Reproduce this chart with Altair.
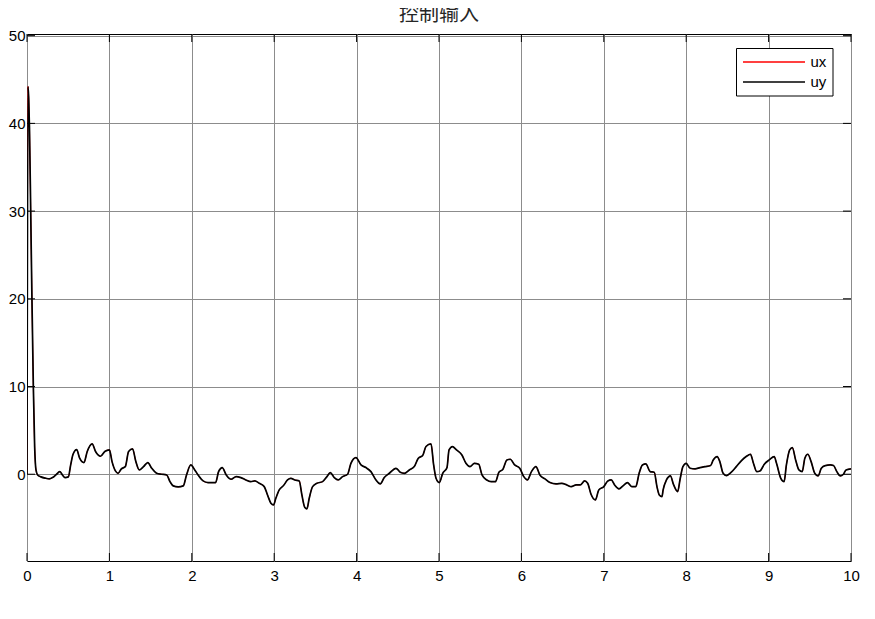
import altair as alt
import pandas as pd

# ---------------- data ----------------
t_values = [
    0.0, 0.012, 0.02, 0.03, 0.045, 0.06, 0.077, 0.093, 0.109, 0.129, 0.169, 0.229, 0.27,
    0.31, 0.35, 0.398, 0.43, 0.462, 0.502, 0.53, 0.559, 0.603, 0.639, 0.691, 0.731,
    0.791, 0.832, 0.892, 0.944, 1.0, 1.032, 1.073, 1.105, 1.145, 1.193, 1.233, 1.281,
    1.321, 1.362, 1.414, 1.466, 1.514, 1.574, 1.635, 1.695, 1.735, 1.775, 1.835, 1.896,
    1.936, 1.988, 2.036, 2.076, 2.137, 2.197, 2.289, 2.325, 2.369, 2.418, 2.478, 2.538,
    2.595, 2.656, 2.717, 2.765, 2.818, 2.879, 2.919, 2.96, 2.992, 3.02, 3.061, 3.113,
    3.162, 3.202, 3.251, 3.304, 3.336, 3.372, 3.397, 3.425, 3.466, 3.518, 3.587, 3.64,
    3.68, 3.729, 3.777, 3.83, 3.891, 3.931, 3.992, 4.053, 4.113, 4.174, 4.235, 4.287,
    4.336, 4.397, 4.478, 4.53, 4.579, 4.64, 4.7, 4.749, 4.802, 4.842, 4.903, 4.935,
    4.964, 5.004, 5.045, 5.097, 5.122, 5.163, 5.212, 5.278, 5.327, 5.376, 5.429, 5.482,
    5.522, 5.58, 5.633, 5.686, 5.727, 5.776, 5.824, 5.865, 5.918, 5.98, 6.029, 6.073,
    6.122, 6.176, 6.224, 6.286, 6.347, 6.42, 6.49, 6.551, 6.604, 6.665, 6.714, 6.767,
    6.804, 6.845, 6.898, 6.939, 7.0, 7.049, 7.09, 7.131, 7.184, 7.237, 7.286, 7.339,
    7.388, 7.429, 7.469, 7.51, 7.563, 7.612, 7.645, 7.673, 7.706, 7.72, 7.76, 7.808,
    7.848, 7.896, 7.928, 7.96, 8.0, 8.048, 8.108, 8.168, 8.228, 8.296, 8.328, 8.376,
    8.408, 8.448, 8.488, 8.548, 8.608, 8.668, 8.728, 8.78, 8.816, 8.856, 8.896, 8.948,
    9.008, 9.068, 9.096, 9.148, 9.188, 9.216, 9.256, 9.288, 9.328, 9.368, 9.408, 9.44,
    9.476, 9.516, 9.56, 9.6, 9.64, 9.688, 9.748, 9.788, 9.828, 9.868, 9.908, 9.94, 10.0,
]
uy_values = [
    0.0, 44.2, 43.0, 39.5, 30.0, 20.0, 10.0, 3.1, 0.5, -0.08, -0.3, -0.46, -0.53,
    -0.38, -0.08, 0.3, -0.08, -0.38, -0.3, 1.06, 2.28, 2.81, 1.83, 1.33, 2.59,
    3.46, 2.59, 2.05, 2.59, 2.78, 1.44, 0.38, 0.11, 0.61, 0.87, 2.59, 2.89,
    1.44, 0.49, 0.87, 1.33, 0.68, 0.11, 0.0, -0.08, -0.84, -1.33, -1.44, -1.33,
    -0.08, 1.06, 0.49, -0.08, -0.76, -0.95, -0.95, 0.3, 0.76, -0.08, -0.57, -0.27,
    -0.38, -0.65, -0.84, -0.76, -1.03, -1.41, -2.36, -3.3, -3.5, -2.74, -1.79, -1.29,
    -0.65, -0.46, -0.65, -0.76, -2.36, -3.8, -3.95, -2.74, -1.41, -1.03, -0.84, -0.27,
    0.19, -0.38, -0.65, -0.27, 0.0, 1.25, 1.9, 1.06, 0.76, 0.3, -0.65, -1.1,
    -0.38, 0.11, 0.68, 0.23, 0.11, 0.49, 0.87, 1.83, 2.13, 3.16, 3.46, 1.06,
    -0.46, -0.95, 0.11, 0.76, 2.78, 3.16, 2.78, 2.2, 1.25, 0.87, 1.25, 1.14,
    -0.08, -0.65, -0.84, -0.84, 0.23, 0.57, 1.63, 1.71, 1.06, 0.68, -0.27, -0.65,
    0.3, 0.87, -0.08, -0.53, -0.95, -1.1, -1.03, -1.22, -1.41, -1.22, -1.22, -0.76,
    -1.03, -2.28, -2.93, -1.79, -1.41, -0.76, -0.65, -1.22, -1.67, -1.29, -0.95, -1.41,
    -1.41, 0.11, 1.06, 1.18, 0.3, 0.23, -1.41, -2.36, -2.55, -1.79, -0.65, -0.19,
    -1.22, -1.98, -0.46, 0.87, 1.25, 0.68, 0.61, 0.76, 0.87, 0.99, 1.63, 2.02,
    1.44, 0.11, -0.15, 0.23, 0.87, 1.52, 2.02, 2.28, 1.25, 0.3, 0.38, 1.14,
    1.63, 2.02, 1.25, -0.46, -0.84, 1.06, 2.78, 3.04, 1.63, 0.49, 0.3, 1.83,
    2.28, 1.44, 0.11, -0.19, 0.68, 0.99, 1.06, 0.99, 0.3, -0.19, 0.0, 0.49, 0.61,
]
# ux is drawn in red underneath uy and is completely hidden by it in the reference
ux_values = list(uy_values)

series_names = ["ux", "uy"]
series_colors = ["#ff0000", "#000000"]
series_widths = [1.0, 1.7]
x_ticks = [0, 1, 2, 3, 4, 5, 6, 7, 8, 9, 10]
y_ticks = [0, 10, 20, 30, 40, 50]
x_domain = [0, 10]
y_domain = [-9.89, 50.19]
title_text = "控制输入"

# ---------------- layout ----------------
W, H = 824, 527
TICK = 8
FONT = "Liberation Sans"

df = pd.concat([
    pd.DataFrame({"t": t_values, "u": ux_values, "series": "ux"}),
    pd.DataFrame({"t": t_values, "u": uy_values, "series": "uy"}),
])
df["idx"] = list(range(len(t_values))) * 2

xs = alt.Scale(domain=x_domain, nice=False, zero=False)
ys = alt.Scale(domain=y_domain, nice=False, zero=False)

common_axis = dict(grid=True, gridColor="#8c8c8c", gridWidth=1, ticks=False,
                   domain=False, title=None, labelFont=FONT, labelFontSize=15,
                   labelColor="#000000", format="d", labelFlush=False,
                   labelOverlap=False)
x_axis = alt.Axis(values=x_ticks, labelPadding=7, **common_axis)
y_axis = alt.Axis(values=y_ticks, labelPadding=2, **common_axis)

line_layers = []
for name, col, sw in zip(series_names, series_colors, series_widths):
    line_layers.append(
        alt.Chart(df[df["series"] == name]).mark_line(
            color=col, strokeWidth=sw, clip=True, interpolate="monotone"
        ).encode(
            x=alt.X("t:Q", scale=xs, axis=x_axis),
            y=alt.Y("u:Q", scale=ys, axis=y_axis),
            order="idx:Q",
        )
    )

xt = pd.DataFrame({"t": x_ticks})
yt = pd.DataFrame({"u": y_ticks})
tick_b = alt.Chart(xt).mark_rule(color="black", strokeWidth=1).encode(
    x=alt.X("t:Q", scale=xs, axis=x_axis), y=alt.value(H), y2=alt.value(H - TICK))
tick_t = alt.Chart(xt).mark_rule(color="black", strokeWidth=1).encode(
    x=alt.X("t:Q", scale=xs, axis=x_axis), y=alt.value(0), y2=alt.value(TICK))
tick_l = alt.Chart(yt).mark_rule(color="black", strokeWidth=1).encode(
    y=alt.Y("u:Q", scale=ys, axis=y_axis), x=alt.value(0), x2=alt.value(TICK))
tick_r = alt.Chart(yt).mark_rule(color="black", strokeWidth=1).encode(
    y=alt.Y("u:Q", scale=ys, axis=y_axis), x=alt.value(W), x2=alt.value(W - TICK))

# legend box (top right, inside the axes)
leg_df = pd.DataFrame({"series": series_names, "color": series_colors})
lx0, lx1, ly0, ly1 = 709.5, 806, 14.5, 62
leg_box = alt.Chart(pd.DataFrame({"k": [0]})).mark_rect(
    fill="white", stroke="black", strokeWidth=1).encode(
    x=alt.value(lx0), x2=alt.value(lx1), y=alt.value(ly0), y2=alt.value(ly1))
leg_layers = [leg_box]
for i, (name, col) in enumerate(zip(series_names, series_colors)):
    row = leg_df[leg_df["series"] == name]
    yy = 28 + 20 * i
    leg_layers.append(alt.Chart(row).mark_rule(color=col, strokeWidth=1.5).encode(
        x=alt.value(716), x2=alt.value(778), y=alt.value(yy)))
    leg_layers.append(alt.Chart(row).mark_text(
        align="left", baseline="middle", font=FONT, fontSize=15, color="black").encode(
        x=alt.value(783.5), y=alt.value(yy), text="series:N"))

chart = alt.layer(*line_layers, tick_b, tick_t, tick_l, tick_r, *leg_layers).properties(
    width=W, height=H,
    title=alt.TitleParams(title_text, font="Noto Sans CJK SC", fontSize=20,
                          fontWeight="normal", color="#262626", offset=4,
                          anchor="middle"),
    autosize=alt.AutoSizeParams(type="none"),
    padding={"left": 19, "top": 26, "right": 16, "bottom": 40},
).configure(
    background="white",
    view=alt.ViewConfig(stroke="black", strokeWidth=1),
)

chart.save("out.html", embed_options={"renderer": "svg", "actions": False})
